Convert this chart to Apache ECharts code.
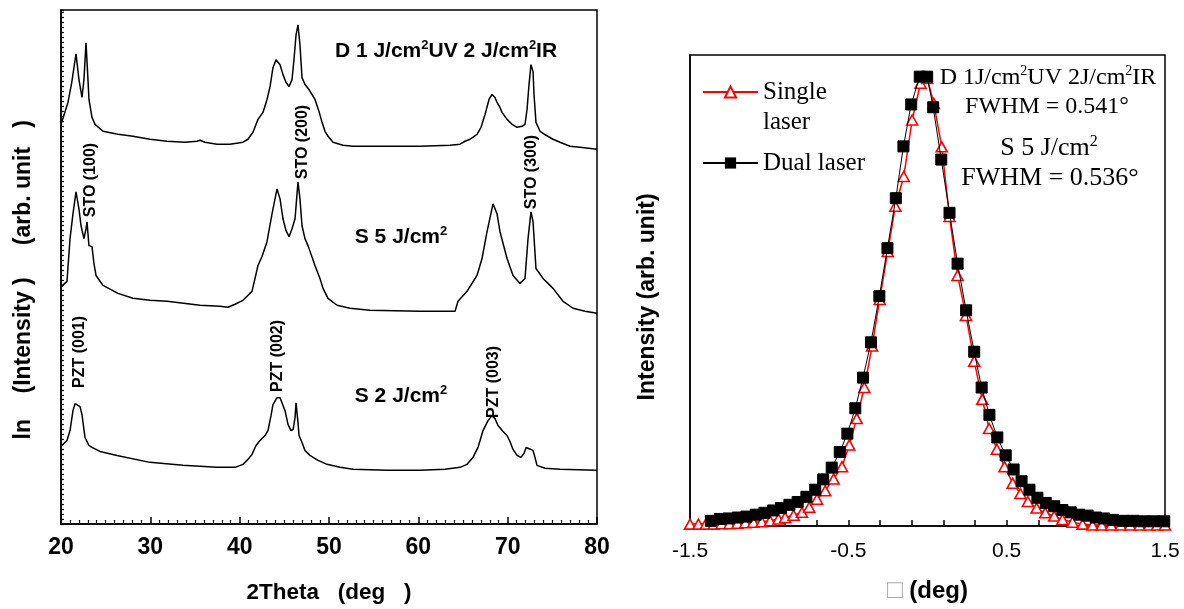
<!DOCTYPE html>
<html><head><meta charset="utf-8">
<script src="https://cdn.jsdelivr.net/npm/echarts@6/dist/echarts.min.js"></script>
<style>html,body{margin:0;padding:0;background:#fff}#c{width:1184px;height:609px}</style>
</head><body><div id="c"></div>
<script>
// ---------- Left panel: XRD patterns (2Theta vs ln intensity, arbitrary offset units) ----------
const thetaD = [20.08,20.78,21.20,21.68,22.01,22.35,22.57,22.80,23.02,23.13,23.47,23.81,24.70,26.38,28.06,29.96,31.87,33.88,35.22,35.56,36.12,37.46,38.92,40.37,40.93,41.49,42.05,42.61,43.06,43.40,43.73,44.07,44.52,44.85,45.19,45.53,45.86,46.08,46.31,46.53,46.75,46.98,47.31,47.76,48.43,48.88,49.22,49.55,49.89,50.45,51.57,52.69,56.49,60.19,63.55,64.67,65.23,65.79,66.57,67.02,67.47,67.91,68.25,68.58,68.81,69.14,69.37,69.93,70.49,71.05,71.61,71.94,72.17,72.39,72.61,72.84,72.95,73.17,73.62,74.29,75.08,75.86,76.98,78.10,80.00];
const intensD = [80.8,84.8,88.8,94.6,89.4,85.8,89.4,96.8,89.4,85.4,81.8,80.4,79.0,78.4,78.0,77.4,77.0,76.8,77.0,77.2,76.8,76.4,76.4,76.8,77.4,78.8,81.4,82.8,85.4,88.0,91.8,93.4,92.4,90.4,88.8,88.0,89.4,93.4,98.4,100.4,96.4,89.8,88.4,87.4,85.4,83.0,80.8,79.0,78.0,76.8,76.2,76.0,76.0,76.0,76.2,76.4,77.0,77.4,78.4,79.8,82.4,85.4,86.4,85.8,84.8,83.8,82.8,81.4,80.4,79.8,80.0,80.4,83.4,88.4,92.4,91.0,86.4,80.8,79.0,78.2,77.4,76.8,76.0,75.8,75.4];

const thetaS5 = [20.08,20.67,21.01,21.34,21.68,22.01,22.24,22.57,22.80,22.91,23.13,23.47,23.69,23.92,24.70,26.38,28.06,29.96,31.87,35.56,37.80,38.69,39.48,40.37,41.38,41.72,42.05,42.50,43.06,43.62,44.18,44.52,44.85,45.19,45.53,45.86,46.20,46.42,46.53,46.75,46.98,47.31,47.65,48.43,48.99,49.33,49.89,50.90,52.35,54.59,60.19,64.11,64.44,65.45,66.57,67.13,67.69,68.36,68.81,69.14,69.93,70.60,71.38,71.94,72.28,72.61,72.84,73.17,73.96,75.08,76.20,77.32,78.66,80.00];
const intensS5 = [47.8,48.8,57.4,62.4,66.8,63.4,60.0,57.4,59.4,60.8,56.0,55.8,52.4,50.0,48.0,46.4,45.4,45.0,44.8,44.0,43.8,43.6,44.2,45.0,46.8,49.4,52.0,53.8,56.8,62.4,67.4,65.4,61.4,59.0,57.8,59.4,61.4,66.4,68.8,65.4,60.0,57.4,56.0,52.0,49.4,47.4,45.4,44.0,43.4,43.0,42.8,42.8,44.8,46.8,50.0,53.4,58.8,64.4,62.4,58.8,53.4,50.0,48.4,49.4,57.4,62.8,60.8,51.4,49.4,47.4,44.8,43.4,42.8,42.4];

const thetaS2 = [20.08,20.67,21.01,21.34,21.57,21.79,22.13,22.35,22.57,22.69,22.91,23.13,23.47,24.37,26.27,29.96,33.66,37.46,39.48,40.37,40.93,41.38,41.83,42.28,42.84,43.17,43.51,43.73,44.18,44.52,44.74,45.08,45.42,45.75,45.98,46.20,46.31,46.42,46.53,46.65,46.98,47.31,47.87,48.77,49.78,51.23,52.69,56.49,60.19,62.99,64.67,65.45,66.12,66.68,67.24,67.80,68.25,68.58,68.92,69.48,69.93,70.26,70.60,71.05,71.49,71.83,72.06,72.28,72.61,72.84,73.06,73.28,74.18,75.86,80.00];
const intensS2 = [15.8,16.8,18.8,22.8,24.2,24.4,23.6,22.0,19.0,17.4,17.0,15.8,15.4,14.6,13.8,12.4,11.8,11.4,11.4,12.0,13.0,14.0,15.8,16.8,17.8,18.8,21.8,24.0,25.4,25.4,25.0,22.8,20.0,18.8,19.0,21.4,24.4,24.4,20.4,17.8,16.4,14.8,13.8,12.8,12.0,11.4,11.0,10.8,10.8,11.0,11.4,12.0,13.4,15.4,18.8,20.8,21.8,21.2,19.8,18.6,17.8,16.6,15.0,13.8,13.4,14.2,15.4,15.8,15.0,14.8,13.4,11.8,11.2,11.0,10.8];

const leftXTickLabels = ['20','30','40','50','60','70','80'];

// ---------- Right panel: rocking curves ----------
const singleX = [-1.500,-1.447,-1.401,-1.350,-1.300,-1.250,-1.200,-1.150,-1.100,-1.047,-0.994,-0.941,-0.899,-0.846,-0.793,-0.747,-0.698,-0.646,-0.593,-0.540,-0.494,-0.447,-0.399,-0.350,-0.302,-0.251,-0.203,-0.150,-0.097,-0.044,-0.002,0.040,0.090,0.139,0.190,0.243,0.295,0.346,0.389,0.438,0.486,0.538,0.587,0.634,0.689,0.744,0.800,0.852,0.916,0.979,1.042,1.100,1.160,1.220,1.280,1.340,1.400,1.450,1.500];
const singleY = [0.004,0.004,0.004,0.004,0.005,0.005,0.006,0.007,0.008,0.009,0.011,0.015,0.018,0.023,0.029,0.040,0.057,0.075,0.100,0.126,0.172,0.228,0.294,0.382,0.481,0.583,0.679,0.742,0.862,0.940,0.950,0.897,0.805,0.657,0.532,0.447,0.350,0.269,0.207,0.163,0.126,0.091,0.069,0.052,0.038,0.028,0.021,0.014,0.008,0.004,0.002,0.002,0.002,0.002,0.002,0.002,0.002,0.002,0.002];

const dualX = [-1.368,-1.310,-1.255,-1.198,-1.143,-1.085,-1.030,-0.975,-0.925,-0.872,-0.820,-0.765,-0.709,-0.659,-0.605,-0.554,-0.506,-0.456,-0.407,-0.357,-0.304,-0.253,-0.200,-0.152,-0.103,-0.049,-0.002,0.036,0.087,0.139,0.190,0.244,0.295,0.342,0.391,0.441,0.494,0.544,0.594,0.644,0.694,0.747,0.800,0.852,0.905,0.958,1.011,1.063,1.116,1.172,1.235,1.300,1.365,1.430,1.495];
const dualY = [0.011,0.015,0.016,0.018,0.020,0.024,0.028,0.033,0.038,0.045,0.051,0.062,0.077,0.099,0.124,0.157,0.196,0.250,0.315,0.390,0.488,0.590,0.696,0.806,0.895,0.954,0.954,0.889,0.778,0.665,0.557,0.458,0.370,0.294,0.236,0.188,0.150,0.120,0.095,0.077,0.060,0.049,0.042,0.034,0.029,0.024,0.022,0.018,0.016,0.013,0.011,0.011,0.010,0.010,0.010];

const rightXTickLabels = ['-1.5','-0.5','0.5','1.5'];

// ---------- chart ----------
const pairs = (xs, ys) => xs.map((x, i) => [x, ys[i]]);
const sans = '"Liberation Sans", Arial, sans-serif';
const serif = '"Liberation Serif", "Times New Roman", serif';

const chart = echarts.init(document.getElementById('c'), null, {renderer: 'canvas'});

const boldSup = {fontFamily: sans, fontWeight: 'bold', fontSize: 13, verticalAlign: 'top', lineHeight: 25, fill: '#000'};
const serifSup = (fs) => ({fontFamily: serif, fontSize: fs, verticalAlign: 'top', lineHeight: 28, fill: '#000'});

function rotLabel(txt, x, y) {
  return {type: 'text', x: x, y: y, rotation: Math.PI / 2, z: 100,
    style: {text: txt, fontFamily: sans, fontWeight: 'bold', fontSize: 16, fill: '#000', textAlign: 'center', textVerticalAlign: 'middle'}};
}
function boldLabel(txt, x, y) {
  return {type: 'text', x: x, y: y, z: 100,
    style: {text: txt, fontFamily: sans, fontWeight: 'bold', fontSize: 21, lineHeight: 25, fill: '#000', textAlign: 'center', textVerticalAlign: 'middle', rich: {s: boldSup}}};
}
function serifLabel(txt, x, y, fs) {
  return {type: 'text', x: x, y: y, z: 100,
    style: {text: txt, fontFamily: serif, fontSize: fs, lineHeight: 28, fill: '#000', textAlign: 'center', textVerticalAlign: 'middle', rich: {s: serifSup(Math.round(fs * 0.6))}}};
}

const axisLineStyle = {color: '#000', width: 1.5};

const option = {
  animation: false,
  backgroundColor: '#fff',
  grid: [
    {left: 61, top: 10, width: 536, height: 517, show: true, borderColor: '#000', borderWidth: 1.5, backgroundColor: 'transparent'},
    {left: 690, top: 55, width: 475, height: 472, show: true, borderColor: '#000', borderWidth: 1.5, backgroundColor: 'transparent'}
  ],
  xAxis: [
    {gridIndex: 0, type: 'value', min: 20, max: 80, interval: 10,
     axisLine: {onZero: false, lineStyle: axisLineStyle},
     axisTick: {inside: true, length: 7, lineStyle: {color: '#000', width: 1.5}},
     minorTick: {show: true, splitNumber: 10, length: 4, lineStyle: {color: '#000', width: 1.2}},
     splitLine: {show: false}, minorSplitLine: {show: false},
     axisLabel: {margin: 12, color: '#000', fontFamily: sans, fontWeight: 'bold', fontSize: 23,
       formatter: v => leftXTickLabels.includes(String(Math.round(v))) ? String(Math.round(v)) : ''},
     name: '2Theta   (deg   )', nameLocation: 'middle', nameGap: 57,
     nameTextStyle: {color: '#000', fontFamily: sans, fontWeight: 'bold', fontSize: 22.5}},
    {gridIndex: 1, type: 'value', min: -1.5, max: 1.5, interval: 1,
     axisLine: {onZero: false, lineStyle: axisLineStyle},
     axisTick: {inside: true, length: 6, lineStyle: {color: '#000', width: 1.5}},
     minorTick: {show: true, splitNumber: 5, length: 6, lineStyle: {color: '#000', width: 1.5}},
     splitLine: {show: false}, minorSplitLine: {show: false},
     axisLabel: {margin: 15, color: '#000', fontFamily: sans, fontSize: 21,
       formatter: v => { const s = v.toFixed(1); return rightXTickLabels.includes(s) ? s : ''; }},
     name: '{box|□} (deg)', nameLocation: 'middle', nameGap: 52,
     nameTextStyle: {color: '#000', fontFamily: sans, fontWeight: 'bold', fontSize: 24,
       rich: {box: {color: '#aaa', fontFamily: sans, fontWeight: 'normal', fontSize: 26}}}}
  ],
  yAxis: [
    {gridIndex: 0, type: 'value', min: 0, max: 103.4, interval: 1,
     axisLine: {onZero: false, lineStyle: axisLineStyle},
     axisTick: {inside: true, length: 3, lineStyle: {color: '#000', width: 1.2}},
     axisLabel: {show: false}, splitLine: {show: false},
     name: 'ln    (Intensity )     (arb. unit   )    ', nameLocation: 'middle', nameGap: 26, nameRotate: 90,
     nameTextStyle: {color: '#000', fontFamily: sans, fontWeight: 'bold', fontSize: 23}},
    {gridIndex: 1, type: 'value', min: 0, max: 1,
     axisLine: {onZero: false, lineStyle: axisLineStyle},
     axisTick: {show: false}, axisLabel: {show: false}, splitLine: {show: false},
     name: 'Intensity (arb. unit)  ', nameLocation: 'middle', nameGap: 31, nameRotate: 90,
     nameTextStyle: {color: '#000', fontFamily: sans, fontWeight: 'bold', fontSize: 23}}
  ],
  legend: {
    orient: 'vertical', left: 697, top: 42, itemWidth: 55, itemHeight: 14, itemGap: 11,
    textStyle: {color: '#000', fontFamily: serif, fontSize: 25, lineHeight: 30},
    formatter: n => n === 'Single laser' ? '\u00A0\nSingle\nlaser' : n,
    data: [{name: 'Single laser'}, {name: 'Dual laser'}]
  },
  series: [
    {type: 'line', name: 'D 1 J/cm2UV 2 J/cm2IR', xAxisIndex: 0, yAxisIndex: 0, data: pairs(thetaD, intensD),
     showSymbol: false, lineStyle: {color: '#000', width: 1.5}, itemStyle: {color: '#000'}, silent: true},
    {type: 'line', name: 'S 5 J/cm2', xAxisIndex: 0, yAxisIndex: 0, data: pairs(thetaS5, intensS5),
     showSymbol: false, lineStyle: {color: '#000', width: 1.5}, itemStyle: {color: '#000'}, silent: true},
    {type: 'line', name: 'S 2 J/cm2', xAxisIndex: 0, yAxisIndex: 0, data: pairs(thetaS2, intensS2),
     showSymbol: false, lineStyle: {color: '#000', width: 1.5}, itemStyle: {color: '#000'}, silent: true},
    {type: 'line', name: 'Single laser', xAxisIndex: 1, yAxisIndex: 1, data: pairs(singleX, singleY),
     symbol: 'triangle', symbolSize: [11, 10], z: 3,
     lineStyle: {color: '#ff0000', width: 1.5},
     itemStyle: {color: '#fff', borderColor: '#ff0000', borderWidth: 1.6}},
    {type: 'line', name: 'Dual laser', xAxisIndex: 1, yAxisIndex: 1, data: pairs(dualX, dualY),
     symbol: 'rect', symbolSize: 11, z: 4,
     lineStyle: {color: '#000', width: 1},
     itemStyle: {color: '#000', borderColor: '#000'}}
  ],
  graphic: [
    boldLabel('D 1 J/cm{s|2}UV 2 J/cm{s|2}IR', 446, 51),
    boldLabel('S 5 J/cm{s|2}', 401, 237),
    boldLabel('S 2 J/cm{s|2}', 401, 396),
    rotLabel('STO (100)', 91, 180),
    rotLabel('STO (200)', 303, 142),
    rotLabel('STO (300)', 532, 172),
    rotLabel('PZT (001)', 80, 352),
    rotLabel('PZT (002)', 278, 356),
    rotLabel('PZT (003)', 494, 382),
    serifLabel('D 1J/cm{s|2}UV 2J/cm{s|2}IR', 1048, 78, 24),
    serifLabel('FWHM = 0.541°', 1047, 107, 24),
    serifLabel('S 5 J/cm{s|2}', 1049, 148, 26),
    serifLabel('FWHM = 0.536°', 1050, 178, 26)
  ]
};
chart.setOption(option);
</script></body></html>
